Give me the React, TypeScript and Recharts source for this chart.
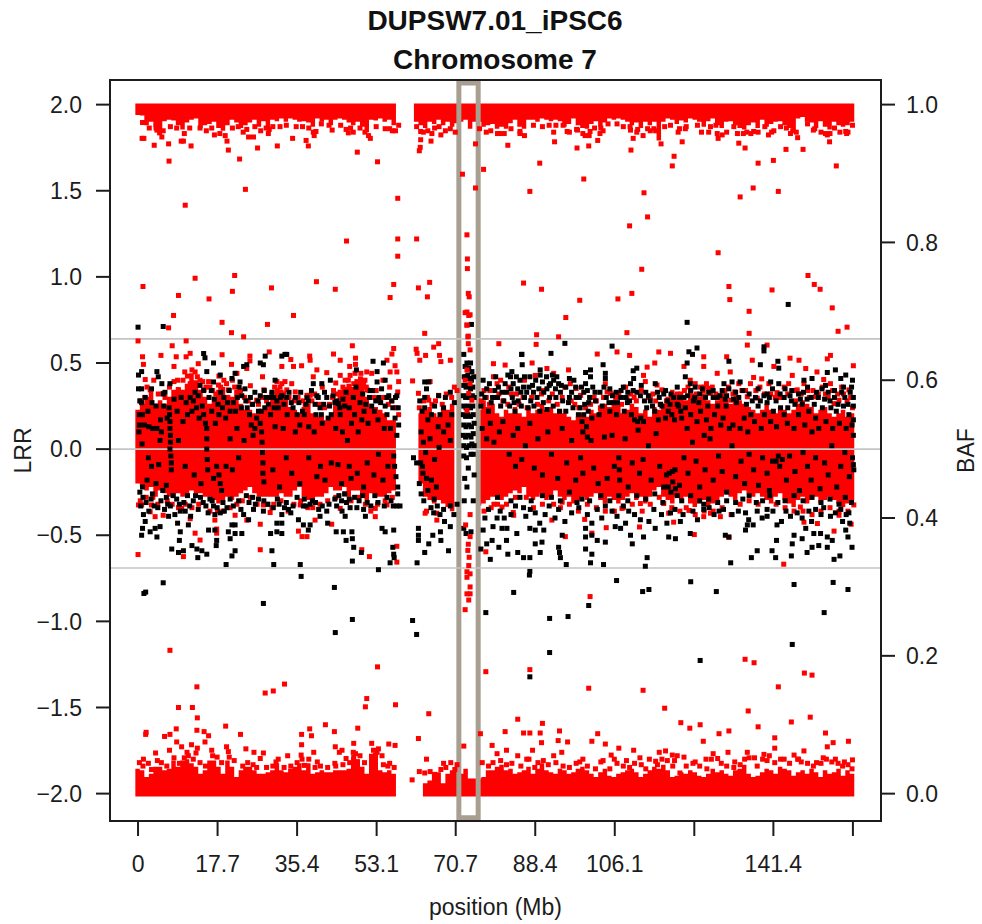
import React from "react";
import { ComposedChart, Area, Scatter, XAxis, YAxis, ReferenceLine, ReferenceArea } from "recharts";

const title1 = "DUPSW7.01_iPSC6";
const title2 = "Chromosome 7";
const xTicks = [0, 17.7, 35.4, 53.1, 70.7, 88.4, 106.1, 123.8, 141.4, 159.1];
const xTickLabels = ["0", "17.7", "35.4", "53.1", "70.7", "88.4", "106.1", "", "141.4", ""];
const lrrTicks = [-2, -1.5, -1, -0.5, 0, 0.5, 1, 1.5, 2];
const bafTicks = [0, 0.2, 0.4, 0.6, 0.8, 1];
const guideLines = [0.64, 0, -0.69];

// BAF envelopes of the saturated red bands, one value per Mb bin (null = centromere gap / selection).
const topEdge = 1.0015;
const bottomEdge = -0.004;
const topLow = [
  .985,.984,.970,.975,.968,.962,.976,.978,.977,.970,.964,.974,.978,.980,.966,.970,.972,.975,.966,.962,
  .970,.978,.974,.966,.970,.974,.978,.968,.976,.965,.978,.976,.980,.975,.980,.978,.975,.976,.974,.968,
  .980,.975,.978,.970,.978,.980,.978,.974,.970,.975,.968,.960,.978,.977,.980,.975,.978,.970,.980,null,
  null,null,.975,.970,.966,.975,.972,.978,.970,.975,.968,.973,.975,.978,.965,.975,.975,.968,.970,.972,
  .965,.968,.965,.973,.978,.968,.965,.978,.978,.975,.980,.978,.976,.978,.976,.968,.972,.980,.970,.966,
  .965,.972,.976,.968,.974,.980,.978,.980,.978,.975,.970,.974,.966,.975,.970,.975,.948,.975,.980,.978,
  .972,.977,.974,.980,.978,.975,.968,.976,.980,.970,.966,.975,.976,.970,.966,.964,.970,.974,.966,.978,
  .968,.972,.975,.976,.970,.966,.960,.980,.982,.975,.974,.966,.976,.968,.964,.975,.970,.968,.970,.975,.985,
];
const bottomHigh = [
  .036,.034,.024,.029,.039,.039,.034,.036,.048,.039,.048,.050,.044,.039,.029,.034,.048,.048,.039,.029,
  .048,.039,.024,.034,.039,.039,.034,.029,.029,.031,.034,.044,.034,.031,.036,.039,.044,.034,.044,.029,
  .031,.034,.031,.031,.034,.034,.034,.036,.053,.050,.039,.029,.058,.058,.034,.031,.034,.029,.024,null,
  null,null,null,null,.015,.019,.029,.031,.015,.029,.034,.039,.029,.036,.022,.022,.022,.024,.034,.034,
  .039,.042,.034,.036,.029,.031,.034,.039,.029,.036,.044,.034,.031,.029,.036,.034,.029,.031,.036,.039,
  .034,.029,.024,.031,.036,.026,.024,.029,.031,.034,.036,.031,.024,.029,.034,.039,.036,.042,.034,.024,
  .026,.031,.029,.034,.031,.026,.024,.029,.036,.031,.034,.029,.026,.034,.036,.042,.029,.024,.026,.031,
  .036,.034,.029,.039,.036,.034,.026,.031,.034,.029,.036,.031,.024,.034,.029,.031,.036,.026,.034,.029,.029,
];
const midHigh = [
  .557,.566,.576,.586,.566,.571,.566,.576,.586,.590,.586,.595,.610,.600,.586,.576,.566,.576,.586,.590,
  .576,.576,.586,.566,.557,.557,.552,.552,.557,.561,.576,.586,.586,.576,.561,.557,.552,.561,.566,.552,
  .547,.547,.542,.547,.571,.586,.590,.595,.590,.600,.600,.576,.561,.561,.557,.552,.542,.542,.537,null,
  null,null,null,.552,.557,.561,.552,.547,.561,.557,.566,.571,null,null,null,null,.557,.571,.561,.566,
  .552,.547,.557,.552,.561,.552,.547,.561,.552,.557,.566,.557,.561,.552,.557,.552,.547,.542,.547,.552,
  .547,.557,.552,.557,.566,.561,.571,.566,.552,.557,.566,.561,.552,.557,.547,.561,.557,.566,.576,.586,
  .581,.576,.571,.586,.581,.576,.581,.571,.566,.571,.576,.571,.566,.576,.571,.566,.561,.557,.552,.557,
  .566,.557,.552,.561,.557,.552,.557,.566,.571,.566,.561,.552,.557,.561,.552,.547,.552,.557,.547,.552,.552,
];
const midLow = [
  .450,.445,.440,.445,.431,.440,.436,.431,.431,.436,.431,.431,.440,.436,.436,.431,.431,.426,.421,.426,
  .431,.426,.431,.436,.440,.445,.436,.431,.431,.431,.431,.431,.436,.431,.431,.440,.445,.431,.426,.426,
  .431,.431,.436,.445,.440,.440,.445,.431,.440,.440,.431,.426,.436,.431,.431,.431,.436,.440,.445,null,
  null,null,null,.450,.431,.426,.421,.426,.421,.416,.410,.405,null,null,null,null,.418,.421,.426,.431,
  .431,.426,.431,.436,.440,.436,.445,.431,.426,.431,.436,.426,.431,.440,.431,.426,.431,.421,.426,.431,
  .426,.431,.436,.426,.421,.431,.426,.421,.426,.431,.436,.426,.431,.421,.431,.440,.445,.431,.426,.421,
  .431,.426,.431,.421,.416,.421,.426,.416,.421,.426,.431,.436,.431,.426,.436,.440,.436,.431,.436,.431,
  .426,.421,.431,.436,.426,.421,.416,.426,.431,.421,.426,.431,.421,.426,.431,.426,.421,.416,.421,.426,.431,
];

// Sparse red BAF points [position Mb, BAF]
const redTopScatter = [
  [1.3,.951],[3.6,.941],[6.8,.943],[9.6,.947],[10.1,.947],[11.8,.940],[6.9,.918],[20.1,.934],[19.8,.947],[26.6,.937],[31,.940],[22.6,.921],[34.4,.951],[37.9,.940],[37.4,.948],[39.6,.961],[48.8,.931],[53.3,.917],[51.7,.951],[56.6,.962],[29,.958],[29.2,.964],[24.6,.953],[25.7,.953],[17,.956],[5.3,.953],[4.2,.963],[4.8,.959],[.9,.951],[46.3,.964],[46.8,.959],[39.2,.955],
  [23.9,.877],[10.5,.854],[57.8,.864],[46.4,.802],[57.8,.805],[62,.805],[57.8,.78],[21.5,.752],[12.7,.748],[1.1,.736],[39.7,.743],[29.7,.734],[21,.729],[9,.723],[15.8,.718],[43.9,.732],[56.9,.739],[56.1,.72],[62.4,.734],[64.9,.742],[64.4,.721],[7.9,.694],[34.6,.694],[18.7,.684],[28.8,.681],[20.8,.669],[23.5,.663],[6.8,.676],[63.8,.668],
  [73.2,.811],[73.3,.776],[73.3,.762],[72.2,.899],[75.1,.943],[75.1,.879],[76.9,.906],[73.5,.726],[73.7,.721],[72.8,.698],[73.6,.694],[73.2,.68],[73.4,.663],[62.9,.961],[62.9,.949],[62.8,.938],[62.6,.933],[65.4,.958],[67.4,.956],[65.2,.947],
  [82.3,.941],[89.4,.915],[87.2,.874],[92.7,.946],[97.7,.937],[100.3,.940],[102.3,.948],[99.2,.892],[109.7,.934],[110.2,.951],[112.6,.872],[113.4,.837],[109.4,.824],[112.1,.761],[109.9,.726],[106.8,.718],[98.3,.716],[85.8,.741],[89.8,.732],[95.2,.691],[88.7,.666],[93.6,.663],[108.8,.669],[116.4,.943],[121.1,.946],[119.3,.925],[118.9,.911],[129.1,.785],[131.5,.736],[131.7,.717],[136,.7],[136,.668],[134,.866],[136.9,.879],[142.5,.874],[138,.915],[141.4,.919],[133.7,.944],[135.1,.937],[144.2,.935],[148,.935],[155.4,.911],[153.9,.946],[149.1,.752],[150.5,.739],[151.8,.732],[141.1,.731],[154.5,.705],[155.8,.671],[157.8,.677],[129.1,.951],[128.9,.958],[130,.956],
  [80.6,.958],[85,.961],[92.5,.960],[95.5,.961],[97.8,.963],[99.5,.955],[100.6,.961],[102.8,.958],[103.5,.962],[109.6,.963],[111.2,.964],[113.4,.965],[114.8,.965],[120.2,.960],[121.8,.965],[127,.960],[134.7,.958],[135.5,.960],[137,.961],[140.3,.956],[141,.960],[146.5,.960],[153,.958],[154,.958],[157.5,.961],[158,.960],[145.7,.962],[150.3,.963],
];
const redTopEdge = [
  [1,.974],[2.5,.966],[4,.966],[5.6,.962],[7.2,.968],[8.6,.966],[10.3,.958],[11.5,.966],[13.8,.966],[15.2,.962],[16.4,.966],[18.2,.958],[19.4,.955],[21,.966],[22.3,.968],[23.4,.96],[24.2,.964],[26,.968],[27.3,.962],[28.5,.966],[30,.968],[31.6,.968],[33,.97],[35.2,.968],[36.6,.968],[38,.966],[39,.96],[40.8,.972],[42.5,.97],[43.2,.963],[45.1,.97],[47.3,.966],[47.9,.96],[49.4,.966],[50.5,.96],[51.3,.955],[53,.968],[55,.965],[56,.965],[57.3,.962],[58,.97],
  [62,.968],[63.5,.96],[64.5,.962],[66,.966],[67,.968],[68.4,.962],[69.5,.965],[70.6,.96],[76,.965],[77.5,.96],[78.5,.962],[80,.958],[81.5,.958],[83,.965],[85,.958],[86,.955],[88,.97],[90,.968],[91.5,.97],[93,.97],[94.6,.97],[96,.96],[97.6,.964],[99,.958],[100.4,.955],[101.6,.966],[103,.966],[104.6,.972],[106.6,.972],[108,.968],[109.5,.968],[111,.96],[112.4,.955],[114,.962],[115.2,.962],[117.2,.968],[118.5,.97],[120.5,.965],[122,.968],[124.5,.97],[125.4,.96],[127.4,.968],[128.6,.97],[131,.96],[132.6,.968],[133.4,.958],[136.4,.958],[138,.96],[139.5,.968],[141.5,.962],[143,.968],[144.3,.966],[145.2,.958],[146.8,.952],[149,.972],[150.6,.965],[152,.96],[153.4,.956],[155,.966],[156.2,.96],[157.7,.958],[159,.97],
];
const redBottomScatter = [
  [7.1,.208],[53.3,.184],[13.1,.155],[32.6,.159],[30.1,.149],[28.3,.146],[50.9,.138],[50.6,.126],[57.3,.129],[9,.125],[12.1,.125],[13.2,.11],[64.7,.116],[77.4,.177],[19.5,.098],[8.5,.094],[13.1,.092],[1.8,.089],[1.7,.086],[5.9,.083],[7.1,.086],[14.7,.09],[15.7,.084],[22.8,.086],[41.7,.1],[38.2,.094],[36.4,.086],[38.6,.084],[43.7,.09],[48.9,.095],[62.4,.08],[76.2,.087],[52,.073],[57.2,.07],[55.8,.072],[48,.073],[43.9,.068],[36.4,.071],[72.5,.069],
  [7,.063],[8.6,.075],[9.7,.068],[10.9,.060],[12.9,.059],[3.9,.059],[16.4,.063],[19.7,.068],[20.1,.061],[24,.065],[25.8,.060],[27.9,.059],[27.2,.051],[30.7,.046],[33.3,.055],[36.3,.056],[39.1,.060],[39.9,.046],[45.4,.063],[46.3,.051],[48,.053],[48.7,.046],[52.8,.056],[54.3,.055],[56,.044],[53.5,.065],[64.2,.050],[68,.044],[62.6,.032],[61,.020],[13.2,.066],[14.9,.075],[11.9,.071],[1.2,.050],[2.3,.044],[37,.041],[43.8,.044],[44.8,.060],[47.9,.060],
  [100.3,.153],[112.4,.15],[117.2,.124],[87.2,.18],[135.1,.195],[137.1,.19],[142.5,.155],[148.3,.175],[150,.172],[135.8,.12],[149.6,.111],[84.5,.108],[90,.102],[145.4,.104],[120.8,.103],[122.8,.095],[125.1,.1],[138,.097],[81.7,.09],[85.8,.088],[87.2,.088],[89.5,.088],[93.8,.091],[102.3,.087],[129.3,.087],[131.5,.091],[141.7,.081],[153,.088],[141.7,.066],[158.1,.076],[154.7,.074],[125.8,.076],[101,.076],[95.6,.075],[93.5,.077],[89.8,.074],[87.8,.063],[104,.072],[107,.066],[110.3,.063],[117.4,.062],[118.9,.056],[121.5,.053],[131.3,.06],[135.6,.06],[139.3,.057],[148.2,.062],[153.4,.068],[105.3,.056],[159,.049],
  [79.9,.058],[78.8,.070],[82,.063],[84.5,.055],[86.5,.050],[92.5,.055],[94.3,.060],[99,.050],[103,.046],[106,.050],[108.7,.048],[111.7,.052],[113.8,.050],[115.2,.047],[116,.060],[120,.055],[124,.046],[126.4,.050],[129,.051],[132.8,.046],[137.2,.052],[140.5,.055],[143.8,.050],[146,.056],[147,.050],[151,.045],[152.5,.052],[155.2,.050],[157.2,.046],[128,.058],[119.4,.048],
];
const redBottomEdge = [
  [.3,.045],[1.1,.04],[3,.035],[4.3,.048],[5.2,.045],[6.4,.04],[8,.052],[9.2,.044],[10.3,.052],[11.2,.055],[12.3,.05],[13.8,.045],[15,.04],[16.6,.055],[17.6,.053],[18.6,.045],[20.3,.053],[21.4,.048],[23.3,.04],[24.4,.045],[25.6,.042],[26.4,.038],[28.6,.038],[30,.04],[31.2,.05],[32.5,.038],[34,.04],[35.4,.045],[36.5,.05],[38,.05],[39.4,.038],[40.6,.04],[42.2,.038],[44,.04],[45.6,.042],[47.1,.045],[48.4,.058],[49.4,.055],[50.4,.045],[52.4,.063],[53.2,.06],[54.6,.042],[55.6,.04],[57,.038],
  [63.8,.03],[65,.032],[66,.028],[67.4,.035],[68.5,.038],[69.6,.045],[70.5,.035],[71,.042],
  [76.6,.045],[78,.04],[79,.045],[80.7,.048],[82,.042],[83.2,.044],[85.2,.04],[87,.05],[88.3,.038],[89,.045],[90.2,.048],[91.3,.042],[93,.045],[94.6,.04],[96,.038],[97.5,.044],[98.3,.046],[100,.04],[101.8,.036],[103.5,.048],[105,.036],[106.6,.044],[108,.04],[109.4,.038],[110.5,.044],[112,.042],[113,.036],[115.6,.042],[116.6,.05],[117.8,.048],[119,.04],[120.6,.03],[122,.04],[123.5,.044],[125,.04],[126.6,.036],[127.6,.05],[129.8,.044],[131,.04],[132.6,.038],[134,.042],[135,.05],[136,.052],[137.8,.04],[139,.05],[140,.048],[141.7,.045],[143,.05],[145,.044],[146.8,.05],[147.6,.046],[149,.044],[150.3,.04],[152,.044],[153.2,.05],[154.4,.046],[155.8,.044],[156.8,.04],[158,.042],[158.9,.036],
];
const redSelection = [
  [73.2,.699],[73.9,.695],[73.2,.68],[73.5,.664],[73.5,.653],[73.9,.644],[73.2,.615],[72.8,.6],[73.9,.595],[73.6,.581],[74.3,.571],[73.2,.556],[73.9,.373],[73.4,.353],[73.7,.343],[73.6,.331],[73.2,.322],[73.9,.319],[73.2,.314],[73.9,.3],[73.2,.29],[73.9,.29],[73.6,.281],[72.8,.267],[73.9,.405],[72.9,.39],[73.5,.362],[77.4,.351],
];
const redFringe = [
  [0,.657],[7.6,.65],[10.7,.657],[1,.634],[1.2,.623],[5.1,.636],[8.5,.634],[8,.62],[10.7,.634],[11.6,.639],[13.4,.624],[18.7,.637],[20.8,.623],[24.9,.635],[24.9,.628],[29.2,.641],[32,.62],[34,.63],[34.6,.62],[36.4,.621],[38.2,.635],[38.3,.629],[43.5,.638],[45,.629],[48.4,.632],[48.4,.623],[47.1,.62],[47.7,.65],[55.4,.629],[56.5,.638],[57.2,.621],[56.9,.646],[61.9,.645],[62.1,.639],[62.7,.629],[64,.636],[65.8,.648],[66.9,.653],[67.1,.636],[67.4,.627],[69.5,.629],
  [1.6,.601],[8,.598],[12.7,.612],[13.8,.6],[15.7,.598],[19.7,.595],[22,.61],[24.2,.617],[27.7,.605],[30.9,.598],[32.7,.598],[34.2,.595],[39,.605],[39.8,.615],[42,.611],[45,.607],[47.2,.607],[48.7,.598],[50.9,.612],[52,.61],[56.1,.612],[57.6,.612],[58,.598],[61.1,.599],[65,.598],
  [2.7,.586],[5.6,.581],[9,.586],[9.8,.581],[11.6,.595],[12.7,.595],[17.9,.593],[20.1,.586],[22.3,.578],[26.4,.571],[32,.595],[33.1,.586],[37.6,.578],[38.3,.578],[46.5,.581],[48,.595],[50.2,.595],[51,.586],[53.2,.574],[62.4,.581],[64.7,.571],[66.9,.578],[11,.606],[14.7,.586],[16,.59],[18,.606],[21,.6],[25,.592],[28,.586],[31,.585],[35,.583],[41,.59],[43.5,.585],[44,.596],[47,.59],[49.5,.602],[50.8,.59],[53,.585],[54.5,.6],[56,.59],[57.8,.583],
  [0,.347],[.1,.419],[.8,.419],[3,.419],[2.7,.409],[5.6,.404],[3.8,.402],[9.7,.414],[10.1,.344],[11.6,.399],[17.1,.397],[12.7,.378],[13.8,.368],[17.5,.384],[17.5,.378],[21.6,.404],[24.2,.397],[27.2,.391],[27.2,.354],[27.9,.419],[29.4,.408],[29.8,.415],[35.7,.381],[36.5,.373],[37.6,.373],[36.1,.419],[39.4,.397],[43.1,.391],[45,.414],[49.8,.354],[51.5,.344],[52.8,.414],[52.8,.402],[55.4,.419],[57.6,.359],[57.6,.336],[63.9,.407],[66.5,.407],[66.5,.397],[64.2,.41],
  [80.3,.653],[88.6,.652],[102.2,.638],[106.6,.641],[109.4,.636],[115.9,.641],[118.5,.639],[135.6,.651],[140,.651],[125.9,.634],[131,.634],[153.4,.631],[154.1,.636],[159.2,.621],[147.1,.629],[145.1,.632],[136.7,.629],[141.5,.62],[125.9,.62],[121.5,.62],[115,.625],[113.3,.619],[87.7,.625],[81.7,.622],[79.1,.624],
  [88.4,.607],[91,.617],[92.5,.61],[96.2,.595],[95.8,.615],[104,.595],[112.5,.607],[112.9,.598],[115.5,.593],[116.6,.586],[122.9,.6],[127,.588],[128.9,.61],[131.8,.612],[133.7,.595],[137,.604],[138.8,.602],[140.4,.595],[145.6,.607],[144.8,.595],[148.6,.617],[151.1,.612],[152.6,.601],[154.1,.595],[158.2,.586],[156,.571],[79.1,.605],[79.9,.595],[104.4,.583],[105.1,.581],[114,.576],[127.4,.581],[131.9,.571],[135.6,.576],[137.8,.574],[146.7,.586],[150.8,.576],[154.9,.566],
  [83.6,.404],[92.1,.397],[94.4,.423],[95.1,.373],[99.4,.398],[101,.378],[104.2,.386],[107.7,.414],[111.6,.387],[111.8,.421],[117,.421],[118.1,.407],[119.2,.394],[122.6,.411],[123.8,.376],[125.9,.402],[127.4,.407],[129.6,.402],[131.5,.372],[143.7,.333],[147.4,.416],[148.2,.394],[151.2,.392],[154.9,.381],[156,.404],[159.3,.419],[158.7,.391],[100.6,.286],[83.5,.408],[79.2,.42],[81,.416],
  [77.5,.575],[78.3,.585],[80.7,.6],[82.5,.59],[84.2,.58],[86,.6],[90.2,.585],[97.5,.588],[98.5,.578],[101.5,.575],[107,.582],[108.5,.59],[110.4,.575],[118.7,.575],[120,.58],[124.3,.58],[126,.59],[130,.578],[132.8,.583],[142.2,.582],[143.5,.575],[149,.585],[153,.58],[157,.58],
];
const redBandUpper = [
  [.5,.57],[1.5,.575],[2,.59],[3.5,.6],[4.5,.58],[6,.575],[7,.59],[8.8,.60],[10,.6],[10.4,.612],[12,.615],[13.2,.605],[14.4,.598],[15.1,.59],[16.6,.585],[17.3,.58],[18.4,.59],[19.1,.60],[20,.575],[21.5,.59],[22.8,.585],[23.7,.575],[24.5,.57],[25.4,.565],[26.8,.565],[27.6,.575],[28.6,.57],[29.8,.58],[30.4,.59],[31.6,.59],[32.4,.58],[33.6,.575],[34.8,.57],[35.6,.575],[36.7,.57],[37.2,.565],[38.7,.57],[39.3,.58],[40.2,.565],[41.5,.56],[42.6,.565],[43.3,.575],[44.4,.58],[45.6,.59],[46.1,.6],[46.8,.6],[47.6,.58],[48.3,.61],[49,.58],[49.6,.61],[50.5,.6],[51.4,.585],[52.4,.575],[53.8,.57],[54.7,.575],[55.7,.565],[56.4,.57],[57.4,.56],[58,.55],
  [62.6,.56],[63.6,.57],[64.4,.575],[65.4,.565],[66.2,.57],[67.7,.565],[68.6,.58],[69.8,.575],[70.4,.59],[71,.585],
  [76.4,.57],[77,.585],[78.2,.565],[79.5,.575],[80.3,.58],[81.2,.57],[82.3,.565],[83.1,.58],[84.8,.565],[85.7,.575],[86.6,.56],[87.6,.575],[88.9,.565],[89.8,.58],[91.4,.57],[92.2,.58],[93.3,.565],[94.4,.575],[95,.59],[96.4,.57],[97.2,.565],[98.1,.56],[99.6,.56],[100.7,.565],[102,.57],[102.9,.56],[103.6,.575],[105.6,.58],[106.3,.575],[107.6,.565],[108.8,.575],[109.7,.58],[110.9,.57],[112,.585],[113.6,.575],[114.6,.58],[115.2,.57],[116.2,.565],[117.6,.57],[119.2,.57],[120.8,.58],[121.6,.585],[122.4,.59],[123,.585],[124,.595],[125.2,.59],[125.8,.585],[126.5,.595],[127.8,.59],[128.6,.58],[129.4,.575],[130.6,.585],[131.4,.59],[132.4,.58],[133.3,.575],[134.4,.585],[135.2,.585],[136.3,.595],[137.5,.585],[138.4,.59],[139.4,.58],[140.8,.58],[141.8,.575],[142.8,.575],[143.8,.59],[144.6,.58],[145.9,.585],[146.4,.57],[147.6,.58],[148.2,.595],[149.4,.575],[150.2,.585],[151.4,.58],[152.3,.59],[153.6,.575],[154.6,.585],[155.7,.58],[156.6,.59],[157.8,.57],[158.6,.575],[159,.56],
];
const redBandLower = [
  [.5,.425],[1.8,.43],[3.3,.43],[4.4,.42],[6.5,.425],[7.6,.42],[9,.415],[10.5,.42],[12,.415],[13.5,.42],[16,.41],[17.7,.41],[18.9,.41],[20.5,.415],[22,.42],[23.2,.425],[25,.43],[26.5,.42],[28.7,.42],[30.2,.42],[31.8,.425],[33.4,.41],[34.7,.42],[36.2,.425],[37.8,.415],[38.9,.415],[40.5,.42],[42.2,.425],[44,.43],[46,.435],[47.4,.425],[49.1,.43],[50.6,.42],[51.8,.41],[53.3,.42],[55,.425],[56.6,.43],
  [77,.41],[78.6,.415],[80,.42],[82,.42],[84,.43],[86.4,.43],[88,.415],[90,.42],[92.5,.42],[94,.415],[96,.42],[98,.41],[100,.42],[102,.415],[104,.41],[106,.41],[108,.415],[110,.42],[112.2,.41],[114,.42],[116,.43],[118.8,.415],[120.6,.41],[122,.415],[124,.405],[126,.41],[128,.41],[130,.415],[132,.405],[134,.42],[136,.425],[138,.42],[140,.43],[142,.42],[144,.415],[146,.41],[148,.41],[150,.405],[152,.41],[154,.415],[156,.41],[158,.41],
];

// Sparse black LRR points [position Mb, LRR]
const blackOutliers = [
  [0,.708],[5.6,.712],[122.2,.736],[144.7,.84],[95,.614],[91.9,.556],[85.4,.55],[105.5,.598],[124.4,.587],[139.3,.594],[74.2,.724],[139.3,.57],
  [1.3,-.838],[1.7,-.83],[5.6,-.776],[36.3,-.739],[43.7,-.803],[27.9,-.896],[47.7,-.989],[43.9,-1.065],[61.1,-.995],[62,-1.076],[77.4,-.949],[83.6,-.832],[91.6,-.983],[95.7,-.972],[100.3,-.908],[91.6,-1.181],[87.2,-1.322],[106.5,-.763],[112.3,-.827],[113.7,-.815],[123,-.77],[128.7,-.827],[146,-.786],[154.7,-.774],[158,-.815],[152.7,-.949],[145.6,-1.134],[125.1,-1.227],[87.1,-.731],[87.2,-.71],[53.5,-.70],[19.6,-.67],
];
const blackLowerLeft = [
  [1.2,-.38],[1.6,-.42],[1,-.46],[.8,-.5],[2.7,-.48],[3.8,-.46],[4.9,-.45],[4.2,-.51],[6.8,-.39],[8.2,-.38],[9.4,-.36],[8.8,-.43],[9.4,-.48],[9.2,-.53],[7.5,-.58],[9,-.6],[10.1,-.59],[12,-.56],[13.1,-.58],[14.2,-.59],[15.3,-.61],[13.3,-.63],[11.2,-.44],[11.7,-.39],[13.4,-.35],[17.1,-.38],[18.3,-.37],[16.8,-.33],[15.7,-.47],[17.1,-.47],[17.5,-.53],[17.4,-.56],[20.9,-.44],[21.6,-.44],[20.1,-.48],[21.6,-.49],[20.5,-.52],[23.1,-.49],[21.6,-.59],[20.9,-.62],[23.5,-.38],[24.6,-.41],[25.7,-.35],[26.1,-.32],[27.9,-.36],[29.5,-.49],[30.9,-.48],[32,-.49],[29.8,-.59],[30.2,-.67],[30.9,-.43],[32,-.43],[32,-.38],[33.5,-.35],[35.7,-.41],[36.8,-.44],[38.3,-.44],[37.9,-.47],[36.1,-.67],[38.3,-.32],[36.8,-.33],[40.5,-.39],[42.2,-.43],[44.1,-.48],[45.7,-.48],[46.1,-.39],[46.3,-.53],[47.7,-.52],[47.6,-.48],[48,-.57],[49.7,-.6],[47.7,-.65],[48.7,-.34],[50.6,-.39],[50.2,-.35],[54.3,-.46],[55,-.48],[56.9,-.47],[56.7,-.57],[56.9,-.61],[57,-.63],[56.1,-.66],[58.3,-.33],[62.4,-.46],[62.4,-.5],[62.4,-.53],[64.7,-.55],[65.6,-.5],[67.3,-.48],[67.4,-.53],[69.1,-.59],[63.8,-.6],[62.1,-.66],[65.8,-.37],[68,-.35],[69.5,-.33],[61.3,-.05],[62,-.08],
  [.4,-.25],[1.1,-.28],[1.8,-.31],[2.9,-.29],[3.6,-.33],[5.1,-.3],[6.3,-.28],[7.2,-.33],[8.6,-.29],[10.2,-.31],[11,-.27],[12.3,-.3],[13.9,-.28],[15.1,-.33],[16,-.29],[18.9,-.31],[19.8,-.34],[21.2,-.33],[22.4,-.3],[24.1,-.27],[25.5,-.28],[28,-.3],[30.1,-.34],[31.4,-.32],[33,-.31],[34.5,-.33],[37,-.29],[39.5,-.31],[41,-.33],[42.5,-.32],[43.8,-.29],[44.7,-.27],[45.3,-.3],[46,-.26],[47,-.29],[49.2,-.3],[51,-.31],[52.7,-.27],[54.8,-.33],[56.3,-.3],[57.6,-.33],[57.8,-.26],
  [62.6,-.2],[63,-.26],[63.6,-.3],[64.5,-.24],[65.2,-.34],[65.9,-.29],[66.6,-.33],[67.2,-.38],[68.2,-.42],[69.5,-.45],[70.3,-.38],[71,-.32],[63.3,-.1],[64.2,-.17],[66.4,-.22],
  [.6,-.33],[2.4,-.36],[3.2,-.26],[4.4,-.34],[5.9,-.35],[6.6,-.32],[7.8,-.27],[9.2,-.32],[10.5,-.36],[11.5,-.33],[12.8,-.27],[14.5,-.31],[15.6,-.37],[16.5,-.3],[17.6,-.34],[19.2,-.36],[20.5,-.29],[22.9,-.35],[24.7,-.31],[26.8,-.29],[28.9,-.32],[31,-.29],[32.6,-.34],[34,-.37],[35.4,-.28],[37.4,-.33],[38.8,-.3],[40.2,-.35],[42,-.36],[44.2,-.33],[45.4,-.36],[46.4,-.31],[47.2,-.34],[48.2,-.28],[50,-.27],[51.8,-.33],[53.4,-.31],[55.4,-.28],[56.8,-.33],
];
const blackLowerRight = [
  [80.6,-.36],[79.9,-.4],[78.8,-.53],[78.4,-.64],[80.3,-.57],[81,-.46],[82.1,-.46],[82,-.53],[82.3,-.61],[84.5,-.6],[85.8,-.63],[87.2,-.63],[84.3,-.49],[87.2,-.46],[88.4,-.47],[90.3,-.47],[89.4,-.43],[88.4,-.55],[89.9,-.54],[89.5,-.6],[85.8,-.34],[87.3,-.35],[88.4,-.37],[90.6,-.38],[93.6,-.35],[94.4,-.5],[93.6,-.57],[93.8,-.6],[94,-.63],[95.3,-.67],[99.6,-.46],[99.6,-.51],[99.6,-.58],[101,-.61],[100.7,-.66],[103.6,-.67],[102.2,-.53],[104,-.54],[101,-.5],[97.7,-.31],[98.1,-.34],[102.2,-.35],[104,-.33],[106.6,-.39],[109.2,-.36],[108.5,-.43],[107.4,-.46],[109.6,-.5],[110,-.55],[112.5,-.51],[113.3,-.63],[112.9,-.68],[115.1,-.46],[113.7,-.42],[114.8,-.35],[118.1,-.51],[119.6,-.52],[117.7,-.43],[120.7,-.42],[122.9,-.49],[118.5,-.37],[125.9,-.32],[129.3,-.36],[125.9,-.35],[131.5,-.51],[131.9,-.66],[130.7,-.5],[135.2,-.37],[135.9,-.41],[135.6,-.44],[135.2,-.47],[137.8,-.36],[140,-.35],[140,-.39],[142.2,-.44],[137.8,-.59],[136.5,-.63],[141.9,-.63],[141.1,-.59],[142.1,-.53],[145.2,-.39],[146,-.5],[145.6,-.55],[147.8,-.52],[145.4,-.62],[148.9,-.6],[150,-.57],[151.5,-.56],[153.4,-.57],[154.9,-.64],[156.2,-.62],[158.9,-.57],[153.4,-.51],[154.5,-.53],[157.5,-.47],[158,-.51],[148.6,-.46],[150.4,-.49],[151.9,-.49],[150.8,-.35],[152.6,-.34],[156.4,-.35],[158.2,-.37],[158.4,-.43],[154.1,-.39],[149.3,-.36],[146.7,-.37],
  [77.2,-.4],[78,-.35],[76.8,-.47],[76.3,-.58],[77.6,-.55],[79,-.45],[81.5,-.4],[83,-.38],[84,-.33],[86.3,-.39],[91.5,-.33],[92.8,-.4],[95,-.42],[96.5,-.37],[100,-.38],[101,-.43],[103.2,-.4],[105.5,-.36],[106.2,-.45],[108,-.33],[110.5,-.38],[111.8,-.41],[116.5,-.38],[119.5,-.35],[121.3,-.38],[123.5,-.36],[124.5,-.41],[127.1,-.34],[128.2,-.38],[130.3,-.35],[132.2,-.38],[133.6,-.36],[136.9,-.44],[138.9,-.4],[141.3,-.36],[143.2,-.42],[144.2,-.36],[147.8,-.4],[149.9,-.42],[152,-.38],[155.2,-.37],[156.8,-.42],[157.6,-.38],
  [80,-.28],[83,-.3],[85,-.28],[87.5,-.3],[90,-.27],[92,-.28],[94,-.3],[96,-.25],[98.8,-.29],[100.5,-.3],[103,-.27],[105,-.3],[107,-.27],[109,-.3],[111,-.27],[113,-.29],[115,-.26],[116.8,-.31],[118,-.22],[118.6,-.25],[119,-.19],[119.6,-.23],[120,-.27],[120.5,-.21],[121,-.3],[123,-.27],[125,-.3],[127,-.29],[129,-.31],[131,-.3],[133,-.31],[134.6,-.29],[136,-.27],[137.6,-.31],[139,-.3],[140.6,-.27],[142.4,-.31],[144,-.3],[146,-.27],[148,-.3],[150,-.28],[152,-.31],[154,-.29],[156,-.32],[157.4,-.28],[158.8,-.31],
];
const blackUpper = [
  [.8,.45],[.1,.43],[4.2,.45],[4.5,.42],[5.3,.38],[7.1,.38],[.1,.35],[.8,.35],[3,.35],[.4,.28],[5.6,.32],[14.6,.555],[14.9,.53],[16.8,.5],[15.3,.45],[18.3,.43],[16.8,.39],[14.6,.34],[13.4,.31],[12.3,.28],[20.9,.41],[21.6,.44],[22.7,.39],[23.5,.48],[24.2,.49],[27.2,.5],[27.9,.49],[28.3,.54],[32,.54],[32.7,.55],[33.1,.55],[30.5,.4],[27.2,.31],[29.4,.3],[30.9,.28],[33.1,.3],[39,.38],[40.9,.38],[42.8,.4],[39.8,.31],[42,.3],[44.6,.265],[48.6,.46],[52.3,.51],[54.6,.5],[57.6,.31],[53.2,.39],[51.7,.34],[55,.4],[53.2,.45],[55.4,.3],[64.7,.39],[63.8,.39],[63.8,.3],[64.2,.35],[66.9,.31],[68.4,.3],[69.5,.33],
  [122.6,.565],[123.4,.55],[122.2,.5],[131.5,.51],[138.5,.49],[142.6,.47],[142.4,.51],[85.4,.55],[103.5,.49],[111,.47],[110.2,.455],[100.7,.46],[99.6,.445],[104,.44],[104,.41],[99.6,.38],[100.7,.42],[96,.41],[89.5,.46],[83.2,.45],[85.5,.49],[82.9,.42],[89.5,.43],[93.6,.38],[91.8,.38],[97,.4],[109.6,.38],[110.3,.41],[115.1,.38],[117.4,.34],[120,.36],[121.8,.42],[122.9,.38],[130.4,.38],[132.2,.39],[134,.39],[140.8,.39],[142.6,.38],[150,.41],[153.4,.445],[156.4,.41],[157.5,.43],[159,.4],[155.2,.46],[148.2,.4],[83.5,.38],[84.5,.35],[85,.4],[86,.42],[87,.36],[88,.33],[90,.39],[91,.35],[92.5,.4],[94,.33],[105,.35],[106.4,.33],[108,.36],[109,.33],[112,.37],[113,.33],[116,.3],[118.6,.32],[120.5,.3],[124,.36],[125,.32],[128,.3],[130,.34],[131,.31],[133,.33],[136,.32],[138,.35],[140,.32],[144,.35],[145.5,.34],[147,.32],[149,.36],[151,.33],[153,.37],[155,.34],[157,.36],[158.5,.33],[159.2,.17],[159.2,.08],[159.2,-.09],
  [.2,.1],[.8,.27],[1.6,.3],[2.2,.22],[3.1,.27],[4,.25],[4.9,.05],[5.7,.25],[6,.33],[6.5,.18],[8,.29],[8.7,.22],[9.6,.3],[10.7,.27],[11.6,.3],[12.7,.33],[13.8,.37],[14.3,.25],[15.8,.3],[16.3,.34],[17,.29],[17.8,.26],[18.4,.33],[19.1,.3],[19.9,.27],[20.3,.34],[21.7,.22],[22.5,.36],[23.1,.31],[23.8,.35],[24.3,.24],[25,.3],[25.5,.26],[26,.33],[26.7,.28],[27.4,.22],[28.1,.34],[29,.26],[29.8,.33],[30.3,.24],[31.7,.3],[32.5,.26],[33.6,.33],[34.1,.27],[35,.3],[35.4,.2],[36.2,.33],[37,.2],[37.9,.28],[38.6,.34],[39.4,.26],[40.1,.3],[40.8,.2],[41.5,.33],[42.6,.25],[43.4,.31],[44.2,.28],[45,.2],[45.6,.29],[46.3,.33],[47,.24],[47.9,.3],[48.5,.36],[49.4,.27],[50,.32],[50.7,.26],[51.5,.3],[52.2,.34],[52.9,.28],[53.6,.3],[54.2,.35],[55,.25],[55.8,.31],[56.5,.28],[57.3,.3],[57.9,.24],
  [76.5,.32],[76.8,.4],[77.6,.35],[78.2,.38],[78.9,.3],[79.6,.42],[80.2,.36],[81,.33],[81.7,.38],[82.3,.43],[83,.35],[83.7,.27],[84.2,.42],[85.2,.33],[85.8,.36],[86.5,.33],[87.2,.42],[87.8,.37],[88.5,.4],[89.2,.35],[90.3,.33],[90.9,.42],[91.5,.37],[92.2,.43],[92.9,.35],[93.2,.42],[94.2,.37],[95.2,.36],[95.8,.27],[96.5,.33],[97.4,.36],[98.2,.3],[98.7,.36],[99.2,.33],[100,.34],[100.3,.27],[101.2,.36],[101.7,.33],[102.8,.33],[103.7,.36],[104.8,.27],[105.6,.31],[106.7,.27],[107.5,.34],[108.5,.3],[109.4,.28],[110.2,.34],[111,.33],[111.8,.31],[112.7,.28],[113.6,.31],[114.5,.25],[115.6,.33],[116.3,.26],[117,.32],[117.8,.28],[118.4,.26],[119.2,.3],[120,.26],[120.8,.22],[121.5,.3],[122.3,.31],[123,.34],[123.9,.3],[124.8,.27],[125.6,.35],[126.3,.3],[127,.33],[128,.34],[128.9,.3],[129.5,.31],[130.7,.29],[131.5,.35],[132.5,.29],[133.7,.3],[134.6,.34],[135.4,.26],[136.7,.28],[137.4,.3],[138.5,.28],[139.3,.31],[140.5,.3],[141.2,.35],[142,.28],[142.9,.32],[143.8,.3],[144.6,.24],[145.1,.31],[146.2,.26],[147.4,.29],[148.1,.33],[148.9,.29],[149.8,.3],[150.5,.26],[151.4,.3],[152.2,.35],[152.8,.29],[153.6,.33],[154.2,.24],[155,.3],[155.8,.26],[156.6,.33],[157.3,.3],[158,.26],[158.8,.36],[159.2,.3],
];
const blackSelection = [
  [72.5,.55],[72.8,.48],[73.2,.5],[73.6,.47],[74,.5],[74.3,.45],[72.6,.42],[73,.42],[73.4,.43],[73.8,.41],[74.2,.4],[74.7,.42],[72.5,.37],[73,.36],[73.5,.37],[74,.35],[74.5,.36],[72.4,.31],[72.9,.3],[73.4,.31],[73.9,.3],[74.4,.31],[74.8,.3],[72.5,.25],[73,.24],[73.5,.25],[74,.24],[74.5,.25],[72.4,.2],[72.9,.19],[73.4,.2],[74,.19],[74.6,.2],[72.5,.14],[73,.13],[73.6,.14],[74.2,.13],[74.8,.15],[72.4,.08],[72.9,.07],[73.5,.08],[74.1,.07],[74.6,.09],[72.5,.02],[73.1,.01],[73.7,.02],[74.3,.03],[74.8,.02],[72.5,-.04],[73.1,-.05],[74.6,-.03],[74.1,-.03],[73.2,-.22],[73.5,-.11],[72.7,-.17],[74.8,-.15],[72.6,-.3],[72.5,-.46],[73,-.49],[74.1,-.48],[74.6,-.3],
];
const blackInner = [
  [6.9,.24],[7,.2],[7.1,.16],[7.1,.12],[7.2,.08],[7.2,.04],[7.1,0],[7.3,-.04],[7.4,-.08],[7.4,-.12],[.3,.2],[1,.2],[.3,.14],[1.4,.14],[2.4,.13],[3.3,.12],[4.2,.12],[5,.17],[5.2,.1],[.9,.03],[2.3,-.05],[3,-.1],[4.6,-.09],[2,-.18],[1,-.22],[4,-.2],[5.5,-.24],[6.3,-.21],
  [10,.16],[11,.2],[12,.22],[13,.24],[13.6,.18],[14.6,.2],[15,.15],[15.3,.12],[15.3,.06],[15.3,0],[15.4,-.06],[15.5,-.12],[16.4,.22],[17.2,.15],[18,.2],[18.8,.24],[19.5,.18],[20.5,.22],[21.2,.27],[22.1,.3],[23,.24],[24,.28],[9,.05],[10.5,-.1],[12.5,-.15],[14,-.2],[16.8,-.17],[17.5,-.1],[18,-.15],[18.3,-.2],[18.6,-.24],[19.6,-.1],[21,-.12],[22.4,-.05],[23.6,.05],[20.5,.06],[22,.12],
  [24.8,.2],[25.2,.14],[25.6,.08],[26,.12],[26.4,.18],[26.8,.22],[27.2,.15],[27.5,.1],[27.6,.04],[27.7,-.02],[27.8,-.08],[27.8,-.14],[28,-.19],[28.2,.24],[29.5,.2],[30.5,.13],[31.2,.24],[32.3,.12],[33.2,.2],[34.5,.24],[35,.1],[36,.14],[36.6,.22],[37.4,.26],[38,.13],[39.2,.1],[39.6,.2],[40.5,.24],[41,.15],[42.3,.18],[43,.2],[44,.12],[44.9,.24],[30,-.12],[31.5,-.22],[33,-.05],[34.2,-.14],[36,-.2],[38,-.05],[39.8,-.16],[40.6,-.1],[41.6,-.18],[43,-.08],[45.3,-.2],[44.5,-.09],[28.5,.3],[30.2,.3],[32,.31],[35.8,.27],[37.6,.3],[41.3,.26],[43.8,.27],[46,.25],
  [47.5,.15],[48.2,.2],[49,.1],[49.8,.17],[50.3,.22],[51.2,.15],[52,.25],[52.6,.22],[53.4,.17],[54,.27],[54.8,.12],[55.4,.2],[56.2,.12],[56.7,.24],[57.2,.18],[57.6,.08],[58,.14],[47,-.1],[47.4,-.17],[48.8,-.14],[50.2,-.22],[51,-.08],[52.5,-.15],[53.5,-.03],[54.5,-.18],[55.6,-.1],[56.9,-.04],[57.1,-.1],[57.4,-.16],[57.8,-.22],[46.6,.05],[45.5,.1],
  [62.7,.28],[63.2,.22],[63.8,.24],[64.5,.17],[65.3,.2],[66,.25],[66.8,.13],[67.2,.2],[68,.24],[69,.14],[69.8,.2],[70.4,.27],[63,.1],[63.5,.04],[64,-.02],[62.9,-.08],[65,.06],[66,-.06],[67,.01],[68,.1],[69.5,.05],[63.4,-.14],[65.3,-.18],
  [76.3,.25],[77.2,.3],[78,.22],[78.6,.27],[79.4,.34],[80,.3],[80.7,.25],[81.4,.28],[82,.33],[82.7,.25],[83.3,.3],[83.9,.22],[84.6,.28],[85.3,.25],[86,.3],[86.8,.24],[87.4,.28],[88.1,.25],[88.8,.3],[89.4,.22],[90.2,.27],[91,.23],[91.6,.3],[92.4,.25],[93,.3],[93.8,.22],[94.5,.28],[95.2,.22],[96,.3],[96.8,.24],[97.5,.3],[98,.2],[98.4,.24],[98.8,.16],[99,.1],[99.2,.2],[99.4,.26],[99.8,.13],[100,.07],[100.2,.22],[100.5,.3],[101,.18],[101.8,.28],[102.6,.2],[103.3,.25],[104.2,.3],[105,.22],[105.8,.27],[106.5,.2],[107.4,.3],[108.2,.22],[108.9,.27],[109.8,.2],[110.5,.17],[111.2,.16],[111.9,.18],[112.5,.16],[113.2,.24],[114,.28],[115,.22],[115.8,.17],[116.6,.25],[117.4,.18],[118,.22],[118.8,.2],[119.4,.17],[120.3,.25],
  [76.6,.12],[77.6,.06],[78.4,.15],[79.2,.04],[80.4,.1],[81.2,.16],[82.6,-.03],[83.5,.08],[84,-.1],[84.5,.12],[85.4,-.06],[86.2,.02],[87.2,.15],[88.2,-.11],[89,.06],[90,-.15],[91.2,.1],[92,-.03],[93.4,-.17],[94.4,.12],[95.4,-.08],[96.5,.05],[97.4,-.18],[98.5,-.05],[99,-.14],[100.8,.05],[101.4,-.11],[102.4,-.2],[103.8,.07],[104.4,-.17],[105.5,.08],[106,-.1],[107,-.05],[107.1,-.12],[107.2,-.18],[108.4,.06],[109.1,-.22],[110,-.08],[111.3,.11],[111.6,-.14],[112.4,-.06],[113.6,.02],[114.2,-.18],[115.3,.09],[116.1,-.1],[117,-.22],[117.6,-.15],[118.2,-.14],[118.9,-.13],[119.5,-.12],
  [121,.18],[121.8,.24],[122.2,.12],[123,.2],[123.6,.28],[124.4,.16],[125.2,.22],[126,.08],[126.5,.17],[126.8,.25],[127.5,.12],[128.3,.2],[129,.25],[129.7,.14],[130.2,.18],[130.9,.25],[131.6,.12],[132.4,.14],[133.2,.27],[134,.12],[134.9,.18],[135.7,.1],[136.4,.2],[137.2,.16],[138,.25],[138.7,.12],[139.4,.2],[140,.27],[140.8,.16],[141.4,.22],[142.1,.13],[143,.24],[143.8,.2],[144.5,.15],[145.4,.28],[146,.12],[147,.2],[147.8,.26],[148.4,.14],[149.3,.22],[150,.1],[150.8,.18],[151.5,.12],[152.3,.24],[153.1,.16],[154,.28],[154.6,.12],[155.4,.22],[156.1,.15],[157,.25],[157.6,.12],[158.2,.2],[158.9,.14],[159.2,.25],
  [121.5,-.05],[122.4,-.14],[123.4,.04],[124.2,-.07],[125,-.22],[126.2,-.12],[127.3,.06],[128,-.18],[129.2,-.04],[130,-.13],[131,-.25],[132.2,.02],[133,-.16],[134.2,-.07],[135,-.2],[136,-.03],[137,-.12],[138.1,-.21],[139,-.05],[140,-.14],[140.5,-.24],[141.2,-.07],[142,-.07],[142.5,-.04],[142.8,-.1],[143.4,-.06],[144.3,-.18],[145,-.04],[146.2,-.13],[147.2,-.24],[148,-.02],[149,-.1],[149.8,-.18],[150.8,-.05],[151.8,-.23],[152.8,-.08],[153.6,-.15],[154.4,.02],[155.5,-.22],[156.4,-.1],[157.3,-.02],[158.3,-.16],[159,-.05],[159.3,-.12],
];

const toPoints = (pairs: number[][]) => pairs.map(([x, y]) => ({ x, y }));

const bandTable = topLow.map((_, i) => ({
  x: i - 0.6,
  top: topLow[i] == null ? null : [topLow[i], topEdge],
  bottom: bottomHigh[i] == null ? null : [bottomEdge, bottomHigh[i]],
  mid: midHigh[i] == null ? null : [midLow[i], midHigh[i]],
}));

const Square = (color: string) => (props: any) => (
  <rect x={props.cx - 2.5} y={props.cy - 2.5} width={5} height={5} fill={color} />
);
const RedDot = Square("#ff0000");
const BlackDot = Square("#000000");

const font = "'Liberation Sans', Arial, sans-serif";
const ink = "#1c1c1c";
const tickStyle = { fontFamily: font, fontSize: 23, fill: ink };
const labelStyle = { fontFamily: font, fontSize: 23, fill: ink };
const axisLine = { stroke: ink, strokeWidth: 2 };
const titleStyle: React.CSSProperties = {
  position: "absolute", left: 110, width: 770, textAlign: "center",
  fontFamily: font, fontWeight: 700, fontSize: 28, color: "#111", lineHeight: "30px",
};

export default function App() {
  return (
    <div style={{ position: "absolute", left: 0, top: 0, width: 982, height: 924, background: "#fff" }}>
      <div style={{ ...titleStyle, top: 6 }}>{title1}</div>
      <div style={{ ...titleStyle, top: 45 }}>{title2}</div>
      <ComposedChart width={982} height={924} data={bandTable} margin={{ top: 80, right: 0, bottom: 0, left: 0 }}>
        <XAxis
          dataKey="x" type="number" domain={[-6.24, 165.35]} allowDataOverflow ticks={xTicks} interval={0}
          tickFormatter={(v: number) => xTickLabels[xTicks.indexOf(v)]}
          height={103} tickSize={15} tickMargin={20} tick={tickStyle} axisLine={axisLine} tickLine={axisLine}
          label={{ value: "position (Mb)", position: "insideBottom", offset: 9, style: labelStyle }}
        />
        <YAxis
          yAxisId="lrr" type="number" dataKey="y" domain={[-2.159, 2.143]} allowDataOverflow ticks={lrrTicks} interval={0}
          tickFormatter={(v: number) => v.toFixed(1).replace("-", "\u2212")}
          width={110} tickSize={14} tickMargin={14} tick={tickStyle} axisLine={axisLine} tickLine={axisLine}
          label={{ value: "LRR", angle: -90, position: "insideLeft", offset: 23, style: { ...labelStyle, textAnchor: "middle" } }}
        />
        <YAxis
          yAxisId="baf" orientation="right" type="number" domain={[-0.0397, 1.0357]} allowDataOverflow ticks={bafTicks} interval={0}
          tickFormatter={(v: number) => v.toFixed(1)}
          width={101} tickSize={14} tickMargin={11} tick={tickStyle} axisLine={axisLine} tickLine={axisLine}
          label={{ value: "BAF", angle: -90, position: "insideRight", offset: 16, style: { ...labelStyle, textAnchor: "middle" } }}
        />
        <Area yAxisId="baf" dataKey="mid" type="stepAfter" fill="#ff0000" fillOpacity={1} stroke="none" dot={false} activeDot={false} isAnimationActive={false} />
        <Area yAxisId="baf" dataKey="top" type="stepAfter" fill="#ff0000" fillOpacity={1} stroke="none" dot={false} activeDot={false} isAnimationActive={false} />
        <Area yAxisId="baf" dataKey="bottom" type="stepAfter" fill="#ff0000" fillOpacity={1} stroke="none" dot={false} activeDot={false} isAnimationActive={false} />
        <Scatter yAxisId="baf" dataKey="y" data={toPoints(redFringe)} shape={RedDot} isAnimationActive={false} />
        <Scatter yAxisId="baf" dataKey="y" data={toPoints(redBandUpper)} shape={RedDot} isAnimationActive={false} />
        <Scatter yAxisId="baf" dataKey="y" data={toPoints(redBandLower)} shape={RedDot} isAnimationActive={false} />
        <Scatter yAxisId="lrr" dataKey="y" data={toPoints(blackOutliers)} shape={BlackDot} isAnimationActive={false} />
        <Scatter yAxisId="lrr" dataKey="y" data={toPoints(blackLowerLeft)} shape={BlackDot} isAnimationActive={false} />
        <Scatter yAxisId="lrr" dataKey="y" data={toPoints(blackLowerRight)} shape={BlackDot} isAnimationActive={false} />
        <Scatter yAxisId="lrr" dataKey="y" data={toPoints(blackUpper)} shape={BlackDot} isAnimationActive={false} />
        <Scatter yAxisId="lrr" dataKey="y" data={toPoints(blackInner)} shape={BlackDot} isAnimationActive={false} />
        <Scatter yAxisId="lrr" dataKey="y" data={toPoints(blackSelection)} shape={BlackDot} isAnimationActive={false} />
        <Scatter yAxisId="baf" dataKey="y" data={toPoints(redTopScatter)} shape={RedDot} isAnimationActive={false} />
        <Scatter yAxisId="baf" dataKey="y" data={toPoints(redTopEdge)} shape={RedDot} isAnimationActive={false} />
        <Scatter yAxisId="baf" dataKey="y" data={toPoints(redBottomScatter)} shape={RedDot} isAnimationActive={false} />
        <Scatter yAxisId="baf" dataKey="y" data={toPoints(redBottomEdge)} shape={RedDot} isAnimationActive={false} />
        <Scatter yAxisId="baf" dataKey="y" data={toPoints(redSelection)} shape={RedDot} isAnimationActive={false} />
        {guideLines.map((v) => (
          <ReferenceLine key={v} yAxisId="lrr" y={v} stroke="#c4c4c4" strokeWidth={1.6} />
        ))}
        <ReferenceArea yAxisId="lrr" x1={71.4} x2={75.7} y1={-2.14} y2={2.125} fill="none" stroke="#a89f91" strokeWidth={5} />
        <ReferenceArea yAxisId="lrr" x1={-6.24} x2={165.35} y1={-2.159} y2={2.143} fill="none" stroke={ink} strokeWidth={2} />
      </ComposedChart>
    </div>
  );
}
